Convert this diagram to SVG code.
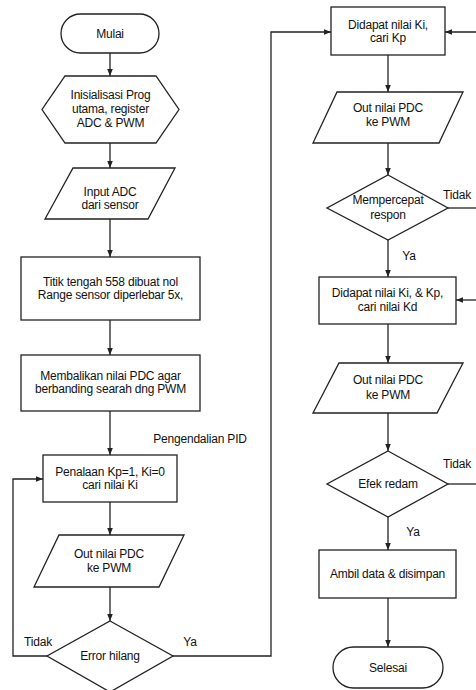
<svg xmlns="http://www.w3.org/2000/svg" width="476" height="690" viewBox="0 0 476 690">
<style>
.s{fill:#fff;stroke:#222;stroke-width:1.3}
.c{fill:none;stroke:#222;stroke-width:1.3}
text{font-family:"Liberation Sans",Arial,sans-serif;font-size:12px;fill:#111;text-anchor:middle;dominant-baseline:central;letter-spacing:-0.2px}
</style>
<defs>
<marker id="ah" viewBox="0 0 10 10" refX="10" refY="5" markerWidth="7" markerHeight="7" markerUnits="userSpaceOnUse" orient="auto">
<path d="M0,1 L10,5 L0,9 Z" fill="#222"/>
</marker>
</defs>
<rect width="476" height="690" fill="#fff"/>
<g id="connectors">
<line class="c" x1="110" y1="53" x2="110" y2="76" marker-end="url(#ah)"/>
<line class="c" x1="110" y1="143" x2="110" y2="168" marker-end="url(#ah)"/>
<line class="c" x1="110" y1="219" x2="110" y2="257" marker-end="url(#ah)"/>
<line class="c" x1="110" y1="320" x2="110" y2="355" marker-end="url(#ah)"/>
<line class="c" x1="110" y1="411" x2="110" y2="455" marker-end="url(#ah)"/>
<line class="c" x1="110" y1="502" x2="110" y2="535" marker-end="url(#ah)"/>
<line class="c" x1="110" y1="587" x2="110" y2="621" marker-end="url(#ah)"/>
<polyline class="c" points="47,656 13,656 13,479 43,479" marker-end="url(#ah)"/>
<polyline class="c" points="173,656 271,656 271,32 331,32" marker-end="url(#ah)"/>
<line class="c" x1="478" y1="32" x2="445" y2="32" marker-end="url(#ah)"/>
<line class="c" x1="388" y1="55" x2="388" y2="92" marker-end="url(#ah)"/>
<line class="c" x1="388" y1="143" x2="388" y2="175" marker-end="url(#ah)"/>
<line class="c" x1="448" y1="208" x2="478" y2="208"/>
<line class="c" x1="388" y1="240" x2="388" y2="277" marker-end="url(#ah)"/>
<line class="c" x1="478" y1="300" x2="456" y2="300" marker-end="url(#ah)"/>
<line class="c" x1="388" y1="324" x2="388" y2="363" marker-end="url(#ah)"/>
<line class="c" x1="388" y1="413" x2="388" y2="451" marker-end="url(#ah)"/>
<line class="c" x1="448" y1="484" x2="478" y2="484"/>
<line class="c" x1="388" y1="517" x2="388" y2="550" marker-end="url(#ah)"/>
<line class="c" x1="388" y1="598" x2="388" y2="647" marker-end="url(#ah)"/>
<text x="200" y="439">Pengendalian PID</text>
<text x="38" y="642">Tidak</text>
<text x="190" y="642">Ya</text>
<text x="457" y="195">Tidak</text>
<text x="409" y="256">Ya</text>
<text x="457" y="464">Tidak</text>
<text x="413" y="532">Ya</text>
</g>
<g id="mulai">
<rect class="s" x="61" y="14" width="98" height="39" rx="19.5"/>
<text x="110" y="33.5">Mulai</text>
</g>
<g id="inisialisasi">
<polygon class="s" points="65,76 156,76 179,109.5 156,143 65,143 42,109.5"/>
<text x="110.5" y="95">Inisialisasi Prog</text>
<text x="110.5" y="109">utama, register</text>
<text x="110.5" y="123">ADC &amp; PWM</text>
</g>
<g id="input-adc">
<polygon class="s" points="73,168 175,168 148,219 45,219"/>
<text x="110" y="192">Input ADC</text>
<text x="110" y="205">dari sensor</text>
</g>
<g id="titik-tengah">
<rect class="s" x="21" y="257" width="179" height="63"/>
<text x="110.5" y="282">Titik tengah 558 dibuat nol</text>
<text x="110.5" y="295">Range sensor diperlebar 5x,</text>
</g>
<g id="membalikan">
<rect class="s" x="21" y="355" width="179" height="56"/>
<text x="110.5" y="376">Membalikan nilai PDC agar</text>
<text x="110.5" y="389">berbanding searah dng PWM</text>
</g>
<g id="penalaan">
<rect class="s" x="43" y="455" width="134" height="47"/>
<text x="110" y="472">Penalaan Kp=1, Ki=0</text>
<text x="110" y="485">cari nilai Ki</text>
</g>
<g id="out1">
<polygon class="s" points="59,535 184,535 159,587 34,587"/>
<text x="109" y="554">Out nilai PDC</text>
<text x="109" y="568">ke PWM</text>
</g>
<g id="error-hilang">
<polygon class="s" points="110,621 173,656 110,692 47,656"/>
<text x="110" y="656">Error hilang</text>
</g>
<g id="didapat-ki">
<rect class="s" x="331" y="7" width="114" height="48"/>
<text x="388" y="25">Didapat nilai Ki,</text>
<text x="388" y="38">cari Kp</text>
</g>
<g id="out2">
<polygon class="s" points="337,92 463,92 439,143 313,143"/>
<text x="388" y="108">Out nilai PDC</text>
<text x="388" y="122">ke PWM</text>
</g>
<g id="mempercepat">
<polygon class="s" points="388,175 448,208 388,240 327,208"/>
<text x="388" y="200">Mempercepat</text>
<text x="388" y="215">respon</text>
</g>
<g id="didapat-kikp">
<rect class="s" x="319" y="277" width="137" height="47"/>
<text x="387.5" y="293">Didapat nilai Ki, &amp; Kp,</text>
<text x="387.5" y="307">cari nilai Kd</text>
</g>
<g id="out3">
<polygon class="s" points="339,363 463,363 437,413 313,413"/>
<text x="388" y="380">Out nilai PDC</text>
<text x="388" y="395">ke PWM</text>
</g>
<g id="efek-redam">
<polygon class="s" points="388,451 448,484 388,517 327,484"/>
<text x="388" y="484">Efek redam</text>
</g>
<g id="ambil-data">
<rect class="s" x="319" y="550" width="137" height="48"/>
<text x="387.5" y="574">Ambil data &amp; disimpan</text>
</g>
<g id="selesai">
<rect class="s" x="333" y="647" width="110" height="41" rx="20.5"/>
<text x="388" y="667.5">Selesai</text>
</g>
</svg>
